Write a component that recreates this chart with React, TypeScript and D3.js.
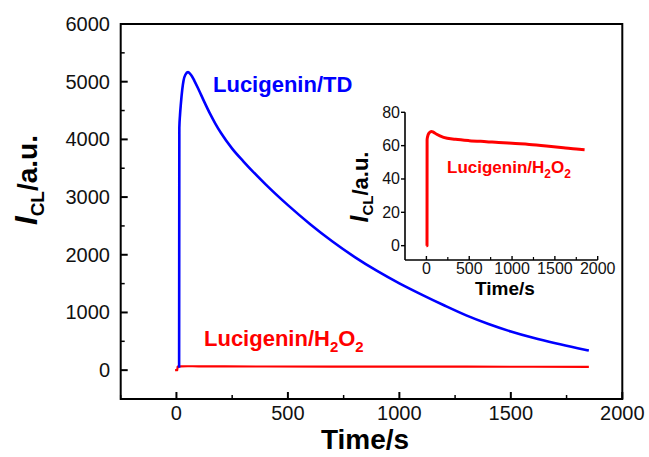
import React from "react";
import * as d3 from "d3";

// Main chart data: Lucigenin/TD (blue)
const tdTime = [12, 13, 16, 20, 26, 32, 40, 52, 65, 80, 100, 125, 150, 175, 200, 250, 300, 400, 500, 600, 700, 800, 900, 1000, 1100, 1200, 1300, 1400, 1500, 1600, 1700, 1800, 1850];
const tdValue = [40, 4200, 4420, 4620, 4860, 5020, 5120, 5165, 5120, 5020, 4860, 4650, 4450, 4270, 4110, 3840, 3620, 3220, 2860, 2530, 2230, 1960, 1720, 1505, 1310, 1125, 950, 800, 670, 560, 465, 380, 340];

// Lucigenin/H2O2 (red) in main chart
const h2o2Time = [-6, 4, 5, 20, 50, 100, 200, 400, 700, 1000, 1300, 1600, 1850];
const h2o2Value = [0, 0, 60, 66, 68, 67, 64, 63, 62, 61, 60, 59, 57];

// Inset data (Lucigenin/H2O2)
const insetTime = [0, 7, 8, 12, 20, 35, 58, 80, 120, 200, 339, 500, 700, 900, 1000, 1200, 1400, 1600, 1750, 1847];
const insetValue = [0, 0, 63.5, 65, 66.5, 67.8, 68.5, 68.1, 66.8, 65, 63.8, 63, 62.4, 61.8, 61.4, 60.7, 59.8, 58.8, 58, 57.6];

const xTicks = [0, 500, 1000, 1500, 2000];
const xMinor = [-250, 250, 750, 1250, 1750];
const yTicks = [0, 1000, 2000, 3000, 4000, 5000, 6000];
const yMinor = [-500, 500, 1500, 2500, 3500, 4500, 5500];
const insetXTicks = [0, 500, 1000, 1500, 2000];
const insetXMinor = [250, 750, 1250, 1750];
const insetYTicks = [0, 20, 40, 60, 80];

const FONT = "Arial, 'Liberation Sans', sans-serif";

export default function App() {
  const x = d3.scaleLinear().domain([-250, 2000]).range([120.7, 622.3]);
  const y = d3.scaleLinear().domain([-500, 6000]).range([399, 24]);
  const ix = d3.scaleLinear().domain([-250, 2000]).range([405, 597.7]);
  const iy = d3.scaleLinear().domain([-8.6, 80]).range([260, 112.3]);

  const line = d3
    .line<[number, number]>()
    .x((d) => x(d[0]))
    .y((d) => y(d[1]))
    .curve(d3.curveMonotoneX);
  const iline = d3
    .line<[number, number]>()
    .x((d) => ix(d[0]))
    .y((d) => iy(d[1]))
    .curve(d3.curveMonotoneX);

  const tdData = tdTime.map((t, i) => [t, tdValue[i]] as [number, number]);
  const h2Data = h2o2Time.map((t, i) => [t, h2o2Value[i]] as [number, number]);
  const inData = insetTime.map((t, i) => [t, insetValue[i]] as [number, number]);

  const [x0, x1] = x.range();
  const [yb, yt] = y.range();

  return (
    <svg
      width={649}
      height={457}
      style={{ position: "absolute", left: 0, top: 0, background: "#fff" }}
      fontFamily={FONT}
    >
      <rect x={0} y={0} width={649} height={457} fill="#fff" />
      {/* curves */}
      <path d={line(h2Data) || ""} fill="none" stroke="#ff0000" strokeWidth={2.2} />
      <path d={line(tdData) || ""} fill="none" stroke="#0000ff" strokeWidth={2.6} strokeLinejoin="round" />

      {/* main frame */}
      <rect x={x0} y={yt} width={x1 - x0} height={yb - yt} fill="none" stroke="#000" strokeWidth={2} />

      {/* x ticks */}
      {xTicks.map((t) => (
        <g key={"xt" + t}>
          <line x1={x(t)} x2={x(t)} y1={yb} y2={yb - 7} stroke="#000" strokeWidth={2} />
          <text x={x(t)} y={420} textAnchor="middle" fontSize={20} fill="#111">
            {t}
          </text>
        </g>
      ))}
      {xMinor.map((t) => (
        <line key={"xm" + t} x1={x(t)} x2={x(t)} y1={yb} y2={yb - 4} stroke="#000" strokeWidth={1.5} />
      ))}
      {/* y ticks */}
      {yTicks.map((t) => (
        <g key={"yt" + t}>
          <line x1={x0} x2={x0 + 7} y1={y(t)} y2={y(t)} stroke="#000" strokeWidth={2} />
          <text x={110} y={y(t) + 7} textAnchor="end" fontSize={20} fill="#111">
            {t}
          </text>
        </g>
      ))}
      {yMinor.map((t) => (
        <line key={"ym" + t} x1={x0} x2={x0 + 4} y1={y(t)} y2={y(t)} stroke="#000" strokeWidth={1.5} />
      ))}

      {/* axis titles */}
      <text x={365} y={449} textAnchor="middle" fontSize={28} fontWeight="bold" fill="#000">
        Time/s
      </text>
      <text transform="translate(37,180) rotate(-90)" textAnchor="middle" fontWeight="bold" fill="#000">
        <tspan fontStyle="italic" fontSize={31}>I</tspan>
        <tspan fontSize={19} dy={7}>CL</tspan>
        <tspan fontSize={28} dy={-7}>/a.u.</tspan>
      </text>

      {/* series labels */}
      <text x={213} y={92} fontSize={22} fontWeight="bold" fill="#0000ff">
        Lucigenin/TD
      </text>
      <text x={204} y={346} fontSize={22} fontWeight="bold" fill="#ff0000">
        Lucigenin/H<tspan fontSize={15} dy={6}>2</tspan>
        <tspan dy={-6}>O</tspan>
        <tspan fontSize={15} dy={6}>2</tspan>
      </text>

      {/* inset */}
      <path d={iline(inData) || ""} fill="none" stroke="#ff0000" strokeWidth={3} strokeLinejoin="round" />
      <line x1={ix(-250)} x2={ix(2000)} y1={iy(-8.6)} y2={iy(-8.6)} stroke="#000" strokeWidth={1.6} />
      <line x1={ix(-250)} x2={ix(-250)} y1={iy(-8.6)} y2={iy(80)} stroke="#000" strokeWidth={1.6} />
      {insetXTicks.map((t) => (
        <g key={"ixt" + t}>
          <line x1={ix(t)} x2={ix(t)} y1={iy(-8.6)} y2={iy(-8.6) - 4} stroke="#000" strokeWidth={1.4} />
          <text x={ix(t)} y={273.5} textAnchor="middle" fontSize={16} fill="#111">
            {t}
          </text>
        </g>
      ))}
      {insetXMinor.map((t) => (
        <line key={"ixm" + t} x1={ix(t)} x2={ix(t)} y1={iy(-8.6)} y2={iy(-8.6) - 3} stroke="#000" strokeWidth={1.2} />
      ))}
      {insetYTicks.map((t) => (
        <g key={"iyt" + t}>
          <line x1={ix(-250)} x2={ix(-250) - 4} y1={iy(t)} y2={iy(t)} stroke="#000" strokeWidth={1.4} />
          <text x={400} y={iy(t) + 5.5} textAnchor="end" fontSize={16} fill="#111">
            {t}
          </text>
        </g>
      ))}
      <text x={505} y={295} textAnchor="middle" fontSize={19} fontWeight="bold" fill="#000">
        Time/s
      </text>
      <text transform="translate(368,187) rotate(-90)" textAnchor="middle" fontWeight="bold" fill="#000">
        <tspan fontStyle="italic" fontSize={25}>I</tspan>
        <tspan fontSize={15} dy={5}>CL</tspan>
        <tspan fontSize={22} dy={-5}>/a.u.</tspan>
      </text>
      <text x={447} y={172.5} fontSize={17} fontWeight="bold" fill="#ff0000">
        Lucigenin/H<tspan fontSize={12} dy={5}>2</tspan>
        <tspan dy={-5}>O</tspan>
        <tspan fontSize={12} dy={5}>2</tspan>
      </text>
    </svg>
  );
}
